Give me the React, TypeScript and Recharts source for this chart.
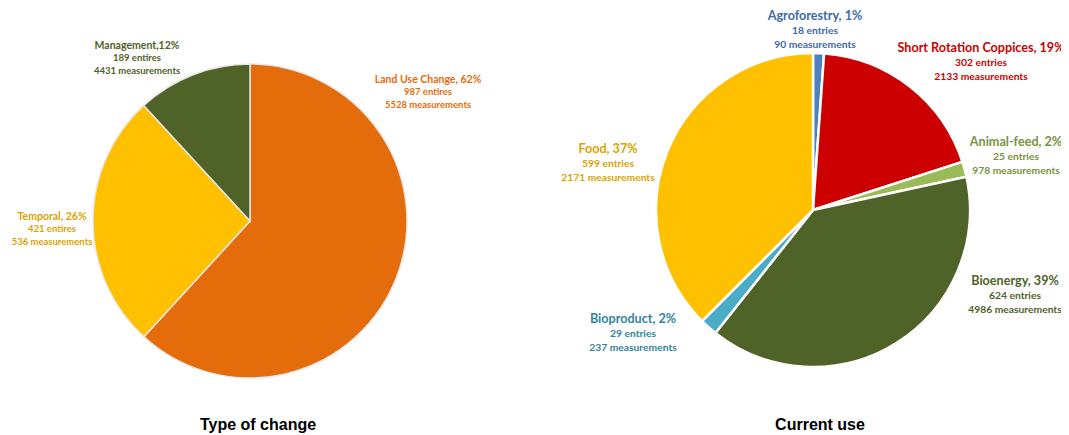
import { PieChart, Pie, Cell } from "recharts";

const changeNames = ["Land Use Change", "Temporal", "Management"];
const changeEntries = [987, 421, 189];
const changeMeasurements = [5528, 536, 4431];
const changeLabels = ["Land Use Change, 62%", "Temporal, 26%", "Management,12%"];

const useNames = ["Agroforestry", "Short Rotation Coppices", "Animal-feed", "Bioenergy", "Bioproduct", "Food"];
const useEntries = [18, 302, 25, 624, 29, 599];
const useMeasurements = [90, 2133, 978, 4986, 237, 2171];
const useLabels = [
  "Agroforestry, 1%",
  "Short Rotation Coppices, 19%",
  "Animal-feed, 2%",
  "Bioenergy, 39%",
  "Bioproduct, 2%",
  "Food, 37%",
];

const changeFill = ["#E46C0A", "#FFC000", "#4F6228"];
const changeText = ["#E46C0A", "#D9A300", "#4F6228"];
const useFill = ["#4F81BD", "#CC0000", "#9BBB59", "#4F6228", "#4BACC6", "#FFC000"];
const useText = ["#3E6AA8", "#CC0000", "#77933C", "#4F6228", "#31859C", "#D9A300"];

// label anchor offsets from each pie's centre
const changeLabelPos = [
  [178, -141],
  [-198, -4],
  [-113, -175],
];
const useLabelPos = [
  [2, -193],
  [168, -161],
  [203, -67],
  [202, 72],
  [-180, 110],
  [-205, -60],
];

const changeData = changeNames.map((name, i) => ({
  name,
  entries: changeEntries[i],
  measurements: changeMeasurements[i],
  label: changeLabels[i],
}));
const useData = useNames.map((name, i) => ({
  name,
  entries: useEntries[i],
  measurements: useMeasurements[i],
  label: useLabels[i],
}));

const FONT = "Lato, 'Open Sans', sans-serif";

function makeLabel(
  pos: number[][],
  colors: string[],
  entryWord: string,
  big: number,
  small: number,
  gap: number
) {
  return (props: any) => {
    const { cx, cy, index, payload } = props;
    const p = payload?.payload ?? payload;
    const x = cx + pos[index][0];
    const y = cy + pos[index][1];
    return (
      <g key={`l${index}`}>
        <text x={x} y={y} textAnchor="middle" dominantBaseline="middle" fill={colors[index]}
          style={{ fontFamily: FONT, fontWeight: 700, fontSize: big }}>
          {p.label}
        </text>
        <text x={x} y={y + gap} textAnchor="middle" dominantBaseline="middle" fill={colors[index]}
          style={{ fontFamily: FONT, fontWeight: 700, fontSize: small }}>
          {`${p.entries} ${entryWord}`}
        </text>
        <text x={x} y={y + gap * 2} textAnchor="middle" dominantBaseline="middle" fill={colors[index]}
          style={{ fontFamily: FONT, fontWeight: 700, fontSize: small }}>
          {`${p.measurements} measurements`}
        </text>
      </g>
    );
  };
}

const titleStyle: React.CSSProperties = {
  position: "absolute",
  top: 417,
  lineHeight: "16px",
  fontFamily: "'Liberation Sans', Arial, sans-serif",
  fontWeight: 700,
  fontSize: 16,
  transform: "translateX(-50%)",
  color: "#000",
  whiteSpace: "nowrap",
};

export default function App() {
  return (
    <div style={{ position: "relative", width: 1069, height: 435, margin: "-8px -8px 0 -8px", background: "#fff" }}>
      <PieChart width={1069} height={435} margin={{ top: 0, right: 0, bottom: 0, left: 0 }}>
        <Pie
          data={changeData}
          dataKey="entries"
          nameKey="name"
          cx={250}
          cy={221}
          outerRadius={157}
          startAngle={90}
          endAngle={-270}
          stroke="#e8e8e8"
          strokeWidth={1.5}
          isAnimationActive={false}
          labelLine={false}
          label={makeLabel(changeLabelPos, changeText, "entires", 10.5, 9.5, 13)}
        >
          {changeData.map((d, i) => (
            <Cell key={d.name} fill={changeFill[i]} />
          ))}
        </Pie>
        <Pie
          data={useData}
          dataKey="entries"
          nameKey="name"
          cx={813}
          cy={210}
          outerRadius={157}
          startAngle={90}
          endAngle={-270}
          stroke="#ffffff"
          strokeWidth={2.5}
          isAnimationActive={false}
          labelLine={false}
          label={makeLabel(useLabelPos, useText, "entries", 12.6, 10.3, 14)}
        >
          {useData.map((d, i) => (
            <Cell key={d.name} fill={useFill[i]} />
          ))}
        </Pie>
      </PieChart>
      <div style={{ ...titleStyle, left: 258 }}>Type of change</div>
      <div style={{ ...titleStyle, left: 820 }}>Current use</div>
    </div>
  );
}
